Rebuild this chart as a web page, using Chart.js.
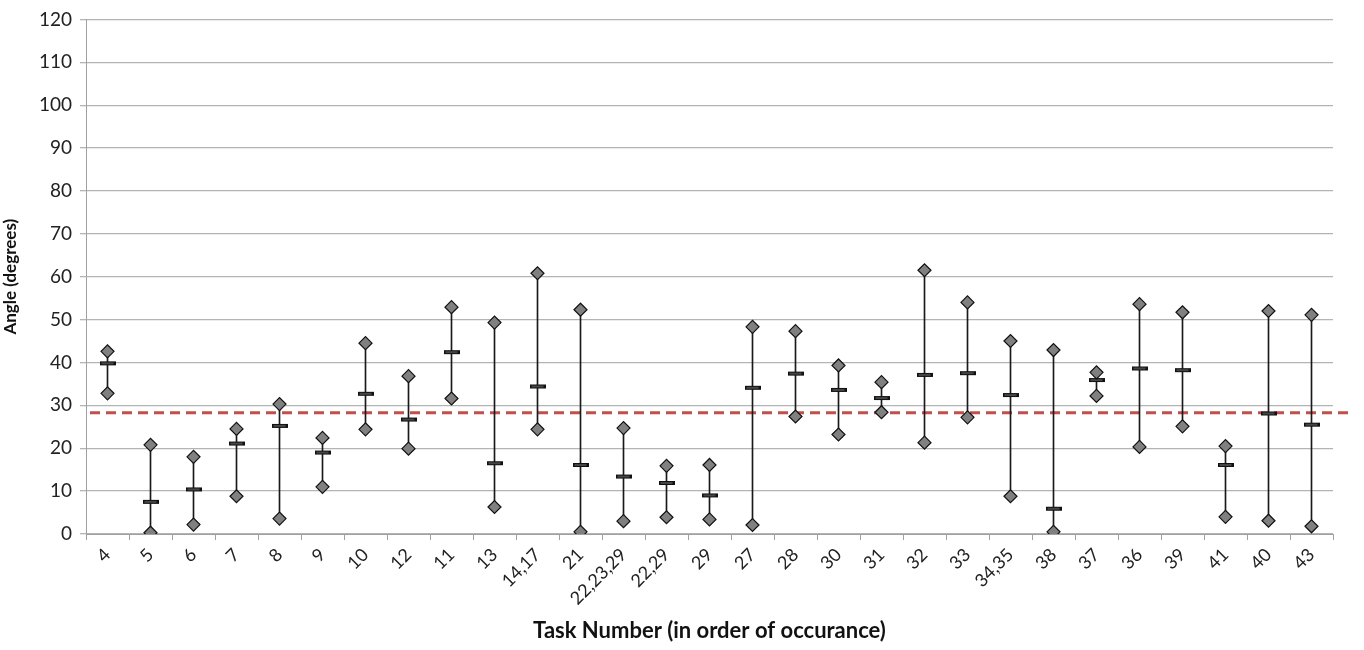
<!DOCTYPE html>
<html lang="en">
<head>
  <meta charset="UTF-8">
  <title>Angle by Task Number</title>
  <script src="https://cdn.jsdelivr.net/npm/chart.js"></script>
  <style>
    body { margin: 0; background: #fff; }
    #wrap { width: 1364px; height: 650px; }
  </style>
</head>
<body>
  <div id="wrap">
    <canvas id="myChart"></canvas>
  </div>

  <script>
    // tasks in order of occurance
    var tasks = ['4','5','6','7','8','9','10','12','11','13','14,17','21','22,23,29','22,29','29',
                 '27','28','30','31','32','33','34,35','38','37','36','39','41','40','43'];
    var highs = [42.6,20.8,18.0,24.5,30.3,22.4,44.5,36.8,52.9,49.3,60.8,52.3,24.7,15.9,16.1,
                 48.3,47.3,39.3,35.4,61.5,54.0,45.0,42.9,37.7,53.6,51.7,20.5,52.0,51.1];
    var lows  = [32.8,0.3,2.2,8.8,3.6,11.0,24.4,19.9,31.6,6.3,24.4,0.5,3.0,3.9,3.4,
                 2.1,27.4,23.2,28.4,21.3,27.2,8.8,0.5,32.2,20.3,25.1,4.0,3.1,1.8];
    var means = [39.8,7.5,10.4,21.1,25.2,19.0,32.7,26.7,42.4,16.5,34.4,16.1,13.4,11.9,9.0,
                 34.1,37.4,33.6,31.7,37.1,37.5,32.4,5.9,35.9,38.6,38.2,16.1,28.1,25.5];
    var referenceAngle = 28.3;

    // small bar marker for the middle value
    var dash = document.createElement('canvas');
    dash.width = 16; dash.height = 6;
    var dc = dash.getContext('2d');
    dc.fillStyle = '#111';
    dc.fillRect(0, 1, 16, 4);
    dc.fillStyle = '#7a7a7a';
    dc.fillRect(2, 2.5, 12, 1);

    var refLine = {
      id: 'refLine',
      beforeDatasetsDraw: function (chart) {
        var c = chart.ctx, a = chart.chartArea;
        var y = chart.scales.y.getPixelForValue(referenceAngle);
        c.save();
        c.strokeStyle = '#c0504d';
        c.lineWidth = 3;
        c.setLineDash([10, 6]);
        c.beginPath();
        c.moveTo(a.left + 4, y);
        c.lineTo(a.right + 15, y);
        c.stroke();
        c.restore();
      }
    };

    var ctx = document.getElementById('myChart').getContext('2d');
    var myChart = new Chart(ctx, {
      type: 'bar',
      data: {
        labels: tasks,
        datasets: [
          {
            label: 'range',
            data: lows.map(function (v, i) { return [v, highs[i]]; }),
            backgroundColor: '#1a1a1a',
            barThickness: 1,
            order: 3
          },
          {
            type: 'line',
            label: 'high',
            data: highs,
            showLine: false,
            pointStyle: 'rectRot',
            pointRadius: 6.5,
            backgroundColor: '#808080',
            borderColor: '#111',
            borderWidth: 1.2,
            order: 1
          },
          {
            type: 'line',
            label: 'low',
            data: lows,
            showLine: false,
            pointStyle: 'rectRot',
            pointRadius: 6.5,
            backgroundColor: '#808080',
            borderColor: '#111',
            borderWidth: 1.2,
            order: 1
          },
          {
            type: 'line',
            label: 'mean',
            data: means,
            showLine: false,
            pointStyle: dash,
            order: 2
          }
        ]
      },
      options: {
        responsive: true,
        maintainAspectRatio: false,
        animation: false,
        layout: { padding: { top: 8, right: 31, bottom: 6, left: 0 } },
        plugins: {
          legend: { display: false },
          tooltip: { enabled: false }
        },
        scales: {
          x: {
            offset: true,
            grid: {
              offset: true,
              drawOnChartArea: false,
              drawTicks: true,
              tickLength: 6,
              color: '#a0a0a0'
            },
            border: { color: '#a0a0a0' },
            ticks: {
              minRotation: 45,
              maxRotation: 45,
              autoSkip: false,
              padding: 4,
              color: '#222',
              font: { family: 'Lato', size: 18 }
            },
            title: {
              display: true,
              text: 'Task Number (in order of occurance)',
              color: '#111',
              font: { family: 'Lato', size: 22, weight: 'bold' },
              padding: { top: 0, bottom: 0 }
            },
            afterFit: function (s) { s.height = 110; }
          },
          y: {
            min: 0,
            max: 120,
            ticks: {
              stepSize: 10,
              color: '#222',
              padding: 8,
              font: { family: 'Lato', size: 19 }
            },
            grid: { color: '#b4b4b4', lineWidth: 1.3, tickLength: 6 },
            border: { color: '#a0a0a0' },
            title: {
              display: true,
              text: 'Angle (degrees)',
              color: '#111',
              font: { family: 'Lato', size: 17, weight: 'bold' },
              padding: { top: 0, bottom: 6 }
            },
            afterFit: function (s) { s.width = 86; }
          }
        }
      },
      plugins: [refLine]
    });
  </script>
</body>
</html>
